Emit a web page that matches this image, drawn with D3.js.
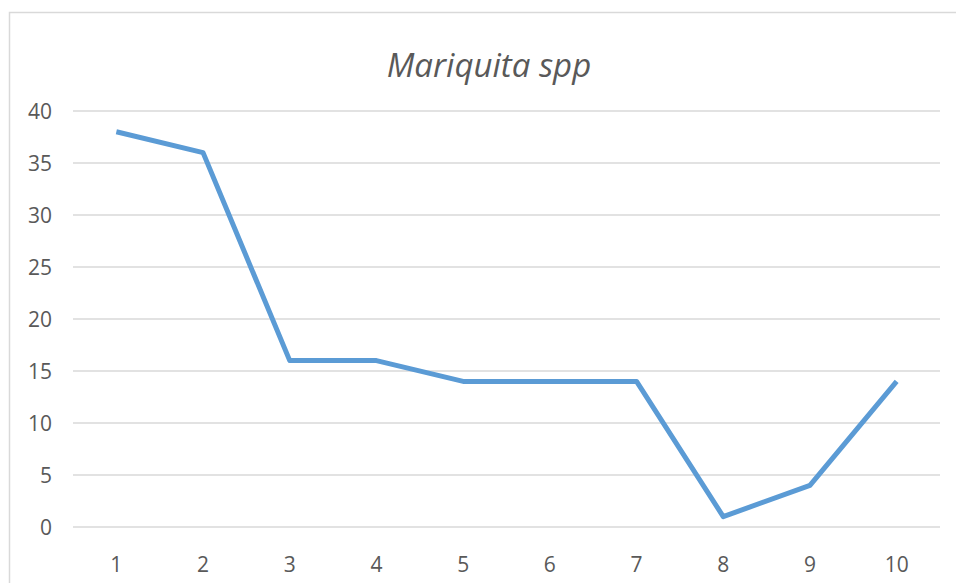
<!DOCTYPE html>
<meta charset="utf-8">
<style>
body { margin: 0; background: #fff; }
text { font-family: "Open Sans", "Liberation Sans", sans-serif; fill: #595959; }
</style>
<svg width="956" height="583"></svg>
<script src="https://d3js.org/d3.v7.min.js"></script>
<script>
var categories = ["1", "2", "3", "4", "5", "6", "7", "8", "9", "10"];
var values = [38, 36, 16, 16, 14, 14, 14, 1, 4, 14];
var yTicks = [0, 5, 10, 15, 20, 25, 30, 35, 40];
var title = "Mariquita spp";

var svg = d3.select("svg");

// chart frame, runs off the right and bottom edge like the source
svg.append("rect")
  .attr("x", 9.5).attr("y", 12.5)
  .attr("width", 1000).attr("height", 700)
  .attr("fill", "none").attr("stroke", "#d9d9d9").attr("stroke-width", 1.5);

var x = d3.scaleBand().domain(categories).range([73, 940]);
var y = d3.scaleLinear().domain([0, 40]).range([527, 111]);

// gridlines
svg.append("g").selectAll("line")
  .data(yTicks)
  .enter().append("line")
    .attr("x1", 73).attr("x2", 940)
    .attr("y1", function(d) { return y(d); })
    .attr("y2", function(d) { return y(d); })
    .attr("stroke", "#d9d9d9").attr("stroke-width", 1.5);

// y labels
svg.append("g").selectAll("text")
  .data(yTicks)
  .enter().append("text")
    .attr("x", 52)
    .attr("y", function(d) { return y(d); })
    .attr("dy", "0.4em")
    .attr("text-anchor", "end")
    .attr("font-size", 21)
    .text(function(d) { return d; });

// x labels
svg.append("g").selectAll("text")
  .data(categories)
  .enter().append("text")
    .attr("x", function(d) { return x(d) + x.bandwidth() / 2; })
    .attr("y", 565)
    .attr("dy", "0.35em")
    .attr("text-anchor", "middle")
    .attr("font-size", 21)
    .text(function(d) { return d; });

var line = d3.line()
  .x(function(d, i) { return x(categories[i]) + x.bandwidth() / 2; })
  .y(function(d) { return y(d); });

svg.append("path")
  .datum(values)
  .attr("d", line)
  .attr("fill", "none")
  .attr("stroke", "#5b9bd5")
  .attr("stroke-width", 5)
  .attr("stroke-linejoin", "round")
  .attr("stroke-linecap", "butt");

svg.append("text")
  .attr("x", 489).attr("y", 77)
  .attr("text-anchor", "middle")
  .attr("font-size", 33)
  .attr("font-style", "italic")
  .text(title);
</script>
